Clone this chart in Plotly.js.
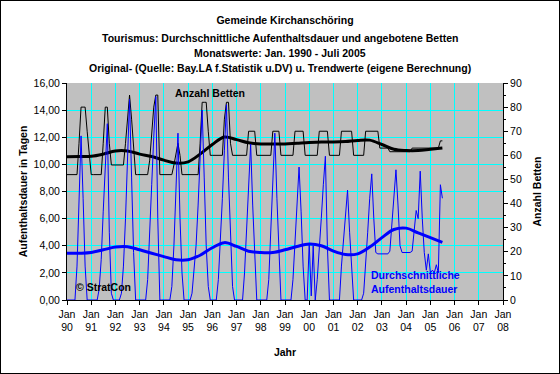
<!DOCTYPE html>
<html><head><meta charset="utf-8">
<script src="https://cdn.plot.ly/plotly-3.0.1.min.js"></script>
<style>
html,body{margin:0;padding:0;background:#fff}
#chart{width:560px;height:374px;position:absolute;left:0;top:0}
#frame{position:absolute;left:0;top:0;width:560px;height:374px;box-sizing:border-box;border:1px solid #000;pointer-events:none}
</style>
</head><body><div id="chart"></div><div id="frame"></div>
<script>
// Monthly average length of stay (days), Jan..Dec per year
const dauer1990 = [0,0,0,0,0,2.5,8.0,12.1,7.5,2.5,0,0];
const dauer1991 = [0,0,0,0,0.8,3.0,6.5,9.8,13.0,5.0,0.5,0];
const dauer1992 = [0,0,0,0.5,2.5,6.0,10.5,14.8,9.0,3.5,0,0];
const dauer1993 = [0,0,0,0,1.5,4.5,8.5,12.0,15.0,6.0,0,0];
const dauer1994 = [0,0,0,0,1.0,4.0,8.0,12.3,6.0,2.0,0,0];
const dauer1995 = [0,0,0.5,2.0,4.0,7.0,10.0,14.0,9.0,4.0,1.0,0];
const dauer1996 = [0,0,0,1.5,4.0,7.5,11.0,14.4,9.0,4.5,1.0,0];
const dauer1997 = [0,0,0,0,2.0,5.0,8.5,11.5,7.0,3.0,0,0];
const dauer1998 = [0,0,0,0,1.5,5.0,9.0,12.3,7.5,3.0,0,0];
const dauer1999 = [0,0,0,0,1.5,4.0,7.0,9.8,6.5,2.5,0,0];
const dauer2000 = [4.2,0.3,4.0,0,1.5,3.5,6.0,8.5,10.6,4.0,0,0];
const dauer2001 = [0,0,0,0,2.5,4.5,6.5,8.1,5.0,2.0,0,0];
const dauer2002 = [0,0,0,0.5,2.5,5.0,7.5,9.3,6.0,3.5,3.4,3.4];
const dauer2003 = [3.4,3.4,3.4,3.4,3.6,5.5,7.5,9.6,7.0,4.0,3.5,3.5];
const dauer2004 = [3.5,3.5,3.5,3.6,5.0,6.6,6.0,9.5,6.0,3.5,2.2,3.4];
const dauer2005 = [2.0,2.2,2.0,2.6,2.0,8.5,7.5];

// Monthly number of beds, Jan..Dec per year
const betten1990 = [52,52,52,52,52,52,65,80,80,80,70,60];
const betten1991 = [52,52,52,52,52,52,65,80,80,65,56,56];
const betten1992 = [56,56,56,56,56,65,75,85,75,62,52,52];
const betten1993 = [52,52,52,52,52,58,70,80,85,85,52,52];
const betten1994 = [52,52,52,52,52,56,60,65,60,52,52,52];
const betten1995 = [52,52,52,52,52,52,65,82,82,82,70,60];
const betten1996 = [60,60,60,60,60,60,75,82,82,65,60,60];
const betten1997 = [60,60,60,60,60,60,70,70,70,70,60,60];
const betten1998 = [60,60,60,60,60,60,70,70,70,70,60,60];
const betten1999 = [60,60,60,60,60,70,70,70,70,70,60,60];
const betten2000 = [60,60,60,60,60,70,70,70,70,70,60,60];
const betten2001 = [60,60,60,60,70,70,70,70,70,70,60,60];
const betten2002 = [60,60,60,60,70,70,70,70,70,70,70,63];
const betten2003 = [63,63,63,63,61.5,61.5,61.5,61.5,61.5,61.5,61.5,61.5];
const betten2004 = [61.5,61.5,61.5,63,63,63,63,63,63,63,63,63];
const betten2005 = [63,63,63,63,63,66,66];

// Trend values, half-yearly (Jan, Jul) 1990 - Jul 2005
const trendDates = ['1990-01-01','1990-07-01','1991-01-01','1991-07-01','1992-01-01','1992-07-01','1993-01-01','1993-07-01',
  '1994-01-01','1994-07-01','1995-01-01','1995-07-01','1996-01-01','1996-07-01','1997-01-01','1997-07-01',
  '1998-01-01','1998-07-01','1999-01-01','1999-07-01','2000-01-01','2000-07-01','2001-01-01','2001-07-01',
  '2002-01-01','2002-07-01','2003-01-01','2003-07-01','2004-01-01','2004-07-01','2005-01-01','2005-07-01'];
const trendBetten = [59.4,59.5,59.6,60.5,61.8,61.8,60.5,59.5,58.0,56.8,57.3,60.5,64.5,67.6,66.5,65.2,
  64.7,64.7,64.7,65.0,65.3,65.5,65.5,65.7,66.2,66.3,64.5,62.5,62.0,62.0,62.5,63.0];
const trendDauer = [3.44,3.45,3.5,3.7,3.9,3.93,3.7,3.45,3.2,2.97,2.97,3.3,3.85,4.23,3.95,3.6,
  3.5,3.5,3.7,3.95,4.13,4.0,3.6,3.35,3.4,3.9,4.6,5.2,5.3,4.95,4.6,4.25];

const yearTicks = ['1990','1991','1992','1993','1994','1995','1996','1997','1998','1999',
  '2000','2001','2002','2003','2004','2005','2006','2007','2008'];
const tickLabels = ['Jan<br>90','Jan<br>91','Jan<br>92','Jan<br>93','Jan<br>94','Jan<br>95','Jan<br>96','Jan<br>97',
  'Jan<br>98','Jan<br>99','Jan<br>00','Jan<br>01','Jan<br>02','Jan<br>03','Jan<br>04','Jan<br>05','Jan<br>06','Jan<br>07','Jan<br>08'];

const dauerYears = [dauer1990,dauer1991,dauer1992,dauer1993,dauer1994,dauer1995,dauer1996,dauer1997,
  dauer1998,dauer1999,dauer2000,dauer2001,dauer2002,dauer2003,dauer2004,dauer2005];
const bettenYears = [betten1990,betten1991,betten1992,betten1993,betten1994,betten1995,betten1996,betten1997,
  betten1998,betten1999,betten2000,betten2001,betten2002,betten2003,betten2004,betten2005];

function flatten(years){
  const xs=[], ys=[];
  years.forEach((arr,i)=>{
    const yr = 1990+i;
    arr.forEach((v,m)=>{ xs.push(yr+'-'+String(m+1).padStart(2,'0')+'-01'); ys.push(v); });
  });
  return {xs, ys};
}
const D = flatten(dauerYears), B = flatten(bettenYears);

const FONT = 'Liberation Sans, Arial, sans-serif';
const traces = [
  {x:B.xs, y:B.ys, yaxis:'y', type:'scatter', mode:'lines', line:{color:'#000000', width:1}, name:'Anzahl Betten', hoverinfo:'skip'},
  {x:trendDates, y:trendBetten, yaxis:'y', type:'scatter', mode:'lines', line:{color:'#000000', width:3, shape:'spline', smoothing:1}, name:'Trend Betten'},
  {x:D.xs, y:D.ys, yaxis:'y2', type:'scatter', mode:'lines', line:{color:'#0000FF', width:1}, name:'Aufenthaltsdauer'},
  {x:trendDates, y:trendDauer, yaxis:'y2', type:'scatter', mode:'lines', line:{color:'#0000FF', width:3, shape:'spline', smoothing:1}, name:'Trend Dauer'}
];

const layout = {
  width:560, height:374,
  margin:{l:67, r:57, t:83, b:74, pad:0},
  paper_bgcolor:'#FFFFFF', plot_bgcolor:'#C0C0C0',
  separators:',.',
  showlegend:false,
  font:{family:FONT, size:10.5, color:'#000'},
  title:{text:'Gemeinde Kirchanschöring', font:{family:FONT, size:10.5, weight:'bold', color:'#000'},
    x:0.5, xanchor:'center', xref:'paper', y:1-16.5/374, yref:'container', yanchor:'top'},
  xaxis:{type:'date', range:['1990-01-01','2008-01-01'], tickmode:'array', tickvals:yearTicks.map(y=>y+'-01-01'), ticktext:tickLabels,
    showgrid:true, gridcolor:'#00FFFF', gridwidth:1, ticks:'outside', ticklen:4, tickcolor:'#000',
    showline:true, linecolor:'#000', linewidth:1, zeroline:false, tickangle:0,
    tickfont:{family:FONT, size:10.5, color:'#000'},
    title:{text:'Jahr', font:{family:FONT, size:10.5, weight:'bold', color:'#000'}, standoff:16}},
  yaxis:{side:'right', range:[0,90], dtick:10, tick0:0, showgrid:false, zeroline:false,
    ticks:'outside', ticklen:4, tickcolor:'#000', showline:true, linecolor:'#000', linewidth:1,
    minor:{ticks:'outside', dtick:5, ticklen:2, tickcolor:'#000', showgrid:false},
    tickfont:{family:FONT, size:10.5, color:'#000'},
    title:{text:'Anzahl Betten', font:{family:FONT, size:10.5, weight:'bold', color:'#000'}, standoff:12}},
  yaxis2:{overlaying:'y', side:'left', range:[0,16], dtick:2, tick0:0, tickformat:'.2f',
    showgrid:true, gridcolor:'#00FFFF', gridwidth:1, zeroline:false,
    ticks:'outside', ticklen:4, tickcolor:'#000', showline:true, linecolor:'#000', linewidth:1,
    tickfont:{family:FONT, size:10.5, color:'#000'},
    title:{text:'Aufenthaltsdauer in Tagen', font:{family:FONT, size:10.5, weight:'bold', color:'#000'}, standoff:3}},
  annotations:[
    {text:'Tourismus: Durchschnittliche Aufenthaltsdauer und angebotene Betten', xref:'paper', yref:'paper', x:(280-67)/436, y:(300-37.7)/217, xanchor:'center', yanchor:'middle', showarrow:false, font:{family:FONT, size:10.5, weight:'bold', color:'#000'}},
    {text:'Monatswerte: Jan. 1990 - Juli 2005', xref:'paper', yref:'paper', x:(280-67)/436, y:(300-52.7)/217, xanchor:'center', yanchor:'middle', showarrow:false, font:{family:FONT, size:10.5, weight:'bold', color:'#000'}},
    {text:'Original- (Quelle: Bay.LA f.Statistik u.DV) u. Trendwerte (eigene Berechnung)', xref:'paper', yref:'paper', x:(280-67)/436, y:(300-67.7)/217, xanchor:'center', yanchor:'middle', showarrow:false, font:{family:FONT, size:10.5, weight:'bold', color:'#000'}},
    {text:'Anzahl Betten', xref:'paper', yref:'paper', x:(210-67)/436, y:(300-93)/217, xanchor:'center', yanchor:'middle', showarrow:false, font:{family:FONT, size:10.5, weight:'bold', color:'#000'}},
    {text:'Durchschnittliche<br>Aufenthaltsdauer', xref:'paper', yref:'paper', x:(369-67)/436, y:(300-281.5)/217, xanchor:'left', yanchor:'middle', align:'left', showarrow:false, font:{family:FONT, size:10.5, weight:'bold', color:'#0000FF'}},
    {text:'© StratCon', xref:'paper', yref:'paper', x:(74-67)/436, y:(300-287)/217, xanchor:'left', yanchor:'middle', showarrow:false, font:{family:FONT, size:10.5, weight:'bold', color:'#000'}}
  ]
};

Plotly.newPlot('chart', traces, layout, {displayModeBar:false, staticPlot:true});
</script></body></html>
